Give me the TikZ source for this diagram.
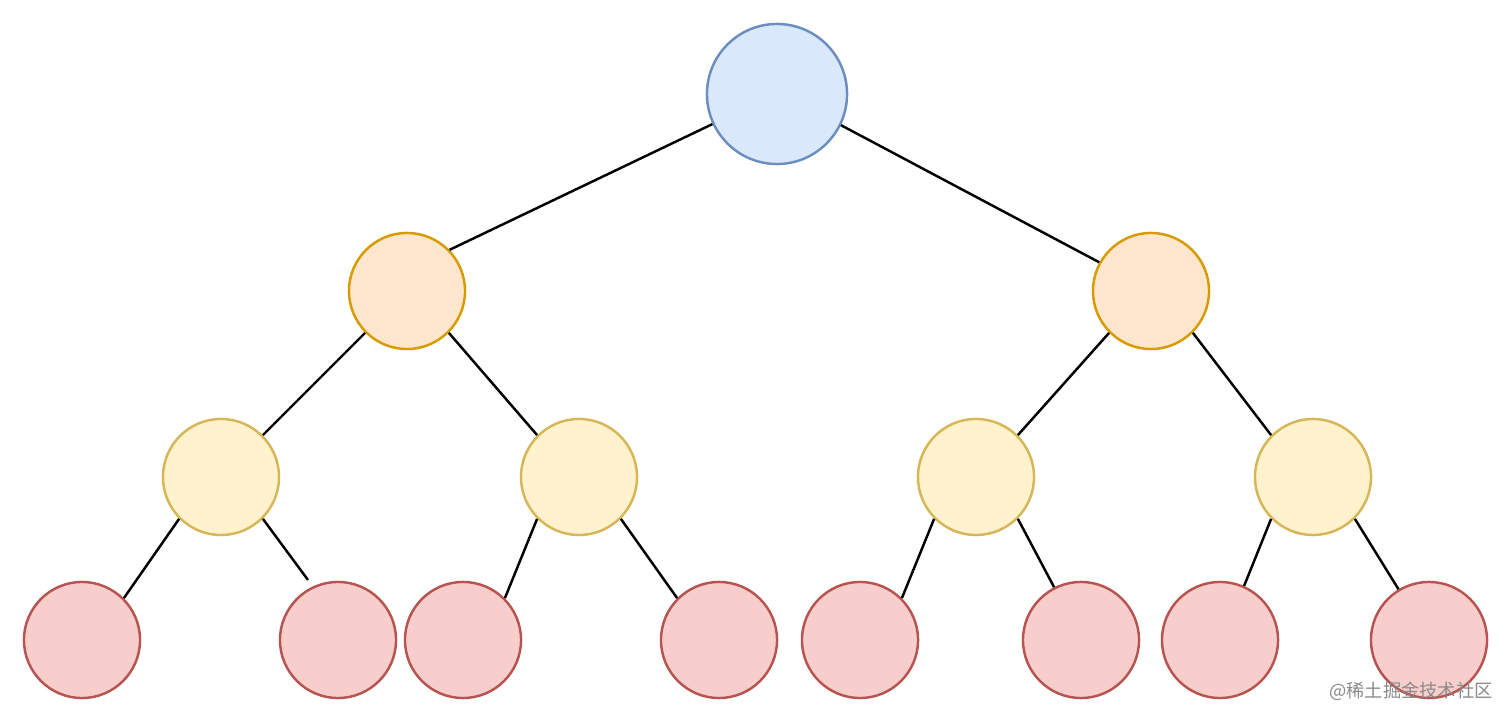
\documentclass[tikz,border=0pt]{standalone}
\usepackage{fontspec}
\newfontfamily\cjkfont{Noto Sans CJK SC}
\definecolor{bluefill}{HTML}{DAE8FC}\definecolor{bluedraw}{HTML}{6C8EBF}
\definecolor{orfill}{HTML}{FFE6CC}\definecolor{ordraw}{HTML}{D79B00}
\definecolor{yefill}{HTML}{FFF2CC}\definecolor{yedraw}{HTML}{D6B656}
\definecolor{refill}{HTML}{F8CECC}\definecolor{redraw}{HTML}{B85450}
\definecolor{wmgray}{HTML}{8A8A8A}
\begin{document}
\begin{tikzpicture}[x=0.01cm,y=-0.01cm,
  circ/.style={circle,inner sep=0pt,line width=0.7pt,minimum size=1.16cm},
  rootc/.style={circ,fill=bluefill,draw=bluedraw,minimum size=1.4cm},
  lvone/.style={circ,fill=orfill,draw=ordraw},
  lvtwo/.style={circ,fill=yefill,draw=yedraw},
  leaf/.style={circ,fill=refill,draw=redraw},
  edge/.style={line width=0.7pt,black},
  wm/.style={font=\cjkfont\fontsize{5.2pt}{6pt}\selectfont,text=wmgray,inner sep=0pt}]
\useasboundingbox (0,0) rectangle (1512,722);
\fill[white] (0,0) rectangle (1512,722);
\node[rootc] (r) at (777,94) {};
\node[lvone] (a) at (407,291) {};
\node[lvone] (b) at (1151,291) {};
\node[lvtwo] (aa) at (221,477) {};
\node[lvtwo] (ab) at (579,477) {};
\node[lvtwo] (ba) at (976,477) {};
\node[lvtwo] (bb) at (1313,477) {};
\node[leaf] (l1) at (82,640) {};
\node[leaf] (l2) at (338,640) {};
\node[leaf] (l3) at (463,640) {};
\node[leaf] (l4) at (719,640) {};
\node[leaf] (l5) at (860,640) {};
\node[leaf] (l6) at (1081,640) {};
\node[leaf] (l7) at (1220,640) {};
\node[leaf] (l8) at (1429,640) {};
\coordinate (dang) at (308,580);
\draw[edge] (r.205) -- (a.44);
\draw[edge] (r.334.5) -- (b.151.7);
\draw[edge] (a.225) -- (aa.45);
\draw[edge] (a.315) -- (ab.135);
\draw[edge] (aa.225) -- (l1.45);
\draw[edge] (aa.315) -- (dang);
\draw[edge] (ab.225) -- (l3.45);
\draw[edge] (ab.315) -- (l4.135);
\draw[edge] (b.225) -- (ba.45);
\draw[edge] (b.315) -- (bb.135);
\draw[edge] (ba.225) -- (l5.45);
\draw[edge] (ba.315) -- (l6.117.4);
\draw[edge] (bb.225) -- (l7.66);
\draw[edge] (bb.315) -- (l8.121.3);
\node[wm] (wmark) at (1411,691) {@稀土掘金技术社区};
\end{tikzpicture}
\end{document}
